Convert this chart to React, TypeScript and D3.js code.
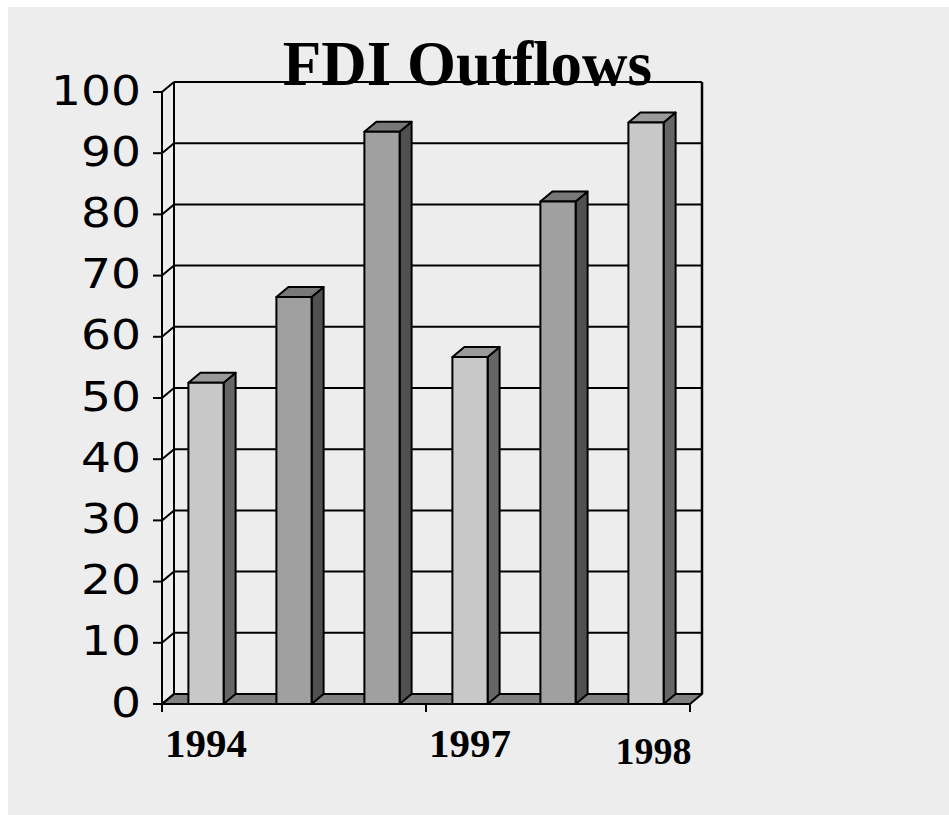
import React from "react";
import * as d3 from "d3";

// Chart data
const categories = ["c1", "c2", "c3", "c4", "c5", "c6"];
const values = [52.5, 66.5, 93.5, 56.7, 82.1, 95.0];
const shades = ["light", "dark", "dark", "light", "dark", "light"];
const yTicks = [0, 10, 20, 30, 40, 50, 60, 70, 80, 90, 100];
const xLabels = ["1994", "", "", "1997", "", "1998"];
const xTickEvery = 3;

const W = 949;
const H = 815;

// Plot geometry
const left = 162;
const right = 690;
const bottom = 704;
const top = 92;
const depthX = 12;
const depthY = 10;

const palette: Record<string, { front: string; side: string; top: string }> = {
  light: { front: "#c8c8c8", side: "#666666", top: "#9a9a9a" },
  dark: { front: "#a0a0a0", side: "#505050", top: "#787878" },
};

export default function App() {
  const x = d3
    .scaleBand<string>()
    .domain(categories)
    .range([left, right])
    .paddingInner(0.6)
    .paddingOuter(0.3);
  const y = d3.scaleLinear().domain([0, 100]).range([bottom, top]);
  const bw = x.bandwidth();
  const step = x.step();

  const pts = (p: [number, number][]) => p.map((d) => d.join(",")).join(" ");

  const xTickPositions = d3
    .range(0, categories.length + 1, xTickEvery)
    .map((i) => left + i * step);

  return (
    <svg
      width={W}
      height={H}
      style={{ position: "fixed", left: 0, top: 0, display: "block" }}
    >
      <rect x={0} y={0} width={W} height={H} fill="#ffffff" />
      <rect x={8} y={7} width={W - 8} height={H - 7} fill="#ededed" />

      {/* floor */}
      <polygon
        points={pts([
          [left, bottom],
          [left + depthX, bottom - depthY],
          [right + depthX, bottom - depthY],
          [right, bottom],
        ])}
        fill="#808080"
        stroke="#000"
        strokeWidth={2}
        strokeLinejoin="round"
      />

      {/* gridlines on side wall and back wall */}
      {yTicks.map((t) => (
        <g key={"g" + t}>
          <line
            x1={left}
            y1={y(t)}
            x2={left + depthX}
            y2={y(t) - depthY}
            stroke="#000"
            strokeWidth={2}
          />
          {t > 0 && (
            <line
              x1={left + depthX}
              y1={y(t) - depthY}
              x2={right + depthX}
              y2={y(t) - depthY}
              stroke="#000"
              strokeWidth={2}
            />
          )}
        </g>
      ))}

      {/* back wall edges */}
      <line
        x1={left + depthX}
        y1={y(100) - depthY}
        x2={left + depthX}
        y2={bottom - depthY}
        stroke="#000"
        strokeWidth={2}
      />
      <line
        x1={right + depthX}
        y1={y(100) - depthY}
        x2={right + depthX}
        y2={bottom - depthY}
        stroke="#000"
        strokeWidth={2.5}
      />

      {/* 3D columns */}
      {categories.map((c, i) => {
        const x0 = x(c) as number;
        const x1 = x0 + bw;
        const yt = y(values[i]);
        const col = palette[shades[i]];
        return (
          <g key={c} stroke="#000" strokeWidth={2} strokeLinejoin="round">
            <polygon
              points={pts([
                [x1, yt],
                [x1 + depthX, yt - depthY],
                [x1 + depthX, bottom - depthY],
                [x1, bottom],
              ])}
              fill={col.side}
            />
            <polygon
              points={pts([
                [x0, yt],
                [x0 + depthX, yt - depthY],
                [x1 + depthX, yt - depthY],
                [x1, yt],
              ])}
              fill={col.top}
            />
            <rect x={x0} y={yt} width={bw} height={bottom - yt} fill={col.front} />
          </g>
        );
      })}

      {/* front floor edge and category ticks */}
      <line x1={left} y1={bottom} x2={right} y2={bottom} stroke="#000" strokeWidth={2} />
      {xTickPositions.map((px, i) => (
        <line
          key={"xt" + i}
          x1={px}
          y1={bottom}
          x2={px}
          y2={bottom + 8}
          stroke="#000"
          strokeWidth={2}
        />
      ))}

      {/* value axis */}
      <line x1={left} y1={top} x2={left} y2={bottom + 8} stroke="#000" strokeWidth={2} />
      {yTicks.map((t) => (
        <g key={"yt" + t}>
          <line x1={left - 9} y1={y(t)} x2={left} y2={y(t)} stroke="#000" strokeWidth={2} />
          <g transform={`translate(141,${y(t) + 12.5}) scale(1.15,1)`}>
            <text
              x={0}
              y={0}
              textAnchor="end"
              fontFamily="'DejaVu Sans', sans-serif"
              fontSize={41}
              fill="#000"
            >
              {t}
            </text>
          </g>
        </g>
      ))}

      {/* category labels */}
      {xLabels.map((lab, i) =>
        lab ? (
          <text
            key={"xl" + i}
            x={(x(categories[i]) as number) + bw / 2 + (i === 5 ? 7.5 : 0)}
            y={i === 5 ? 764 : 757}
            textAnchor="middle"
            fontFamily="'Liberation Serif', 'Times New Roman', serif"
            fontWeight="bold"
            fontSize={i === 5 ? 38 : 41}
            fill="#000"
          >
            {lab}
          </text>
        ) : null
      )}

      {/* title */}
      <text
        x={467.5}
        y={85}
        textAnchor="middle"
        fontFamily="'Liberation Serif', 'Times New Roman', serif"
        fontWeight="bold"
        fontSize={63}
        fill="#000"
      >
        FDI Outflows
      </text>
    </svg>
  );
}
